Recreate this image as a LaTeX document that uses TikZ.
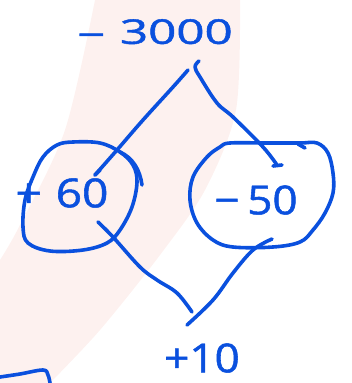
\documentclass[tikz,border=0pt]{standalone}
\usepackage{fontspec}
\newfontfamily\handfont[FakeBold=1.2]{Open Sans}
\usetikzlibrary{positioning}
\definecolor{inkblue}{RGB}{10,80,222}
\definecolor{wmark}{RGB}{253,241,239}

\begin{document}
\begin{tikzpicture}[x=1pt, y=-1pt,
    ink/.style={draw=inkblue, line width=3.6pt, line cap=round, line join=round},
    numlabel/.style={text=inkblue, inner sep=0pt, font=\handfont\fontsize{40}{40}\selectfont}
]
\useasboundingbox (0,0) rectangle (352,383);
\fill[wmark] plot[smooth] coordinates {(95,0) (65,130) (20,225) (0,260)} -- (0,383)
    -- plot[smooth] coordinates {(50,383) (100,330) (160,255) (205,190) (236,110) (240,0)} -- cycle;

\node[numlabel, font=\handfont\fontsize{34}{34}\selectfont] (total) at (155,33) {\scalebox{1.45}[1]{\raisebox{-3pt}{−}\hspace{10pt}3000}};
\node[numlabel] (gain) at (62,193) {\scalebox{1.15}[1]{+\hspace{12pt}60}};
\node[numlabel] (loss) at (256,200) {\scalebox{1.1}[1]{−\hspace{7pt}50}};
\node[numlabel] (net) at (202,358) {\scalebox{1.1}[1]{+10}};

\coordinate (apexL) at (188,70);
\coordinate (apexR) at (199,61);
\coordinate (gainIn) at (95,175);
\coordinate (lossIn) at (277,165);
\coordinate (gainOut) at (98,222);
\coordinate (lossOut) at (272,239);
\coordinate (baseL) at (192,312);
\coordinate (baseR) at (187,325);

\draw[ink] plot[smooth cycle, tension=0.6] coordinates {(73,142) (100,143) (120,152) (133,165) (137,182)
    (132,207) (120,230) (107,243) (83,250) (50,251) (28,243) (23,227) (25,200) (33,177) (43,157) (57,145)};
\draw[ink] (120,152) .. controls (133,158) and (140,170) .. (142,185);
\draw[ink] plot[smooth cycle, tension=0.6] coordinates {(230,143) (267,143) (300,143) (317,143) (328,153)
    (333,173) (333,193) (325,213) (313,230) (300,242) (273,247) (233,247) (213,240) (197,223)
    (190,200) (193,177) (207,157) (220,147)};
\draw[ink] (298,144) -- (305,148);

\draw[ink] plot[smooth, tension=0.6] coordinates {(apexL) (173,87) (143,120) (117,150) (gainIn)};
\draw[ink] (gainIn) -- (100,170);
\draw[ink] plot[smooth, tension=0.6] coordinates {(apexR) (195,67) (200,77) (217,103) (233,117) (263,147) (lossIn)};
\draw[ink] (273,166) -- (282,165);
\draw[ink] plot[smooth, tension=0.6] coordinates {(gainOut) (113,237) (140,267) (157,280) (177,293) (baseL)};
\draw[ink] plot[smooth, tension=0.6] coordinates {(lossOut) (253,250) (233,273) (213,300) (baseR)};

\draw[ink] plot[smooth, tension=0.6] coordinates {(0,377) (20,374) (43,370) (48,375) (50,383)};
\end{tikzpicture}
\end{document}
